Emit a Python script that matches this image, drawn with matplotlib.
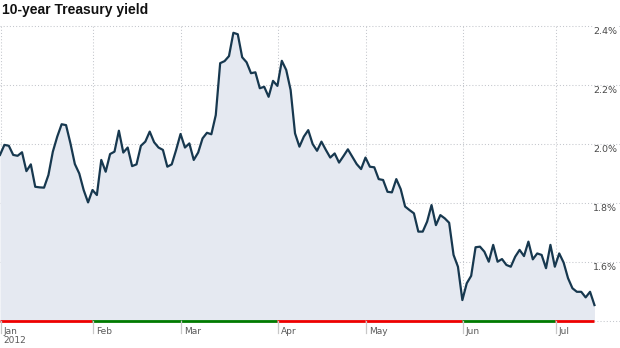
import numpy as np
import matplotlib
matplotlib.use("Agg")
import matplotlib.pyplot as plt

# 10-year Treasury yield (%), one value per trading day, Dec 30 2011 .. Jul 16 2012
yields = [
    1.963, 1.997, 1.994, 1.963, 1.960, 1.972, 1.908, 1.931, 1.855, 1.853,
    1.852, 1.895, 1.974, 2.025, 2.067, 2.064, 2.002, 1.932, 1.900, 1.844,
    1.802, 1.844, 1.827, 1.946, 1.906, 1.966, 1.974, 2.045, 1.971, 1.988,
    1.925, 1.931, 1.994, 2.008, 2.042, 2.006, 1.988, 1.980, 1.923, 1.931,
    1.980, 2.034, 1.988, 2.002, 1.946, 1.971, 2.019, 2.038, 2.033, 2.098,
    2.274, 2.281, 2.298, 2.377, 2.372, 2.294, 2.277, 2.240, 2.243, 2.189,
    2.194, 2.160, 2.214, 2.197, 2.282, 2.251, 2.183, 2.036, 1.991, 2.025,
    2.047, 2.000, 1.977, 2.008, 1.980, 1.954, 1.968, 1.937, 1.959, 1.982,
    1.957, 1.932, 1.915, 1.954, 1.923, 1.921, 1.881, 1.878, 1.838, 1.836,
    1.881, 1.847, 1.788, 1.776, 1.765, 1.703, 1.703, 1.737, 1.793, 1.725,
    1.759, 1.748, 1.733, 1.624, 1.584, 1.471, 1.528, 1.553, 1.650, 1.652,
    1.635, 1.601, 1.658, 1.601, 1.610, 1.590, 1.584, 1.618, 1.641, 1.620,
    1.669, 1.609, 1.629, 1.624, 1.579, 1.658, 1.584, 1.629, 1.598, 1.545,
    1.511, 1.499, 1.499, 1.480, 1.499, 1.454,
]

# first trading day of each month (index into yields)
month_ticks = [0, 21, 41, 63, 83, 105, 126]
month_labels = ["Jan\n2012", "Feb", "Mar", "Apr", "May", "Jun", "Jul"]
# monthly change colour along the baseline
month_colors = ["#ee0000", "#007a00", "#007a00", "#ee0000", "#ee0000", "#007a00", "#ee0000"]

y_ticks = [1.6, 1.8, 2.0, 2.2, 2.4]
y_labels = ["1.6%", "1.8%", "2.0%", "2.2%", "2.4%"]

LINE = "#17384f"
FILL = "#e5e9f1"
GRID = "#c4c7cc"

fig = plt.figure(figsize=(6.2, 3.48), dpi=100)
ax = fig.add_axes([0.0, (348 - 321) / 348, 1.0, 295 / 348])

x = np.arange(len(yields))
ax.set_xlim(0, 140.8)
ax.set_ylim(1.4, 2.4)

for s in ax.spines.values():
    s.set_visible(False)
ax.set_xticks([])
ax.set_yticks([])

# dotted grid
for v in y_ticks + [1.4]:
    ax.axhline(v, color=GRID, lw=0.75, ls=(0, (1, 2)), zorder=1, clip_on=False)
for t in month_ticks:
    ax.axvline(t + 0.2, color=GRID, lw=0.75, ls=(0, (1, 2)), zorder=1)

ax.fill_between(x, yields, 1.4, color=FILL, lw=0, zorder=2)
ax.plot(x, yields, color=LINE, lw=1.6, zorder=3, solid_joinstyle="round")

# coloured baseline per month
ends = month_ticks[1:] + [len(yields) - 1]
for start, end, c in zip(month_ticks, ends, month_colors):
    ax.hlines(1.4, start, end, color=c, lw=2.0, zorder=4, clip_on=False)

# month tick marks and labels
for t, lab in zip(month_ticks, month_labels):
    ax.plot([t + 0.2, t + 0.2], [0, -0.04], transform=ax.get_xaxis_transform(),
            color="#c8c8c8", lw=0.9, clip_on=False, zorder=4)
    ax.annotate(lab, xy=(t, 0), xycoords=("data", "axes fraction"),
                xytext=(2.5, -4), textcoords="offset points",
                ha="left", va="top", fontsize=6.5, color="#5a5a5a",
                family="DejaVu Sans", linespacing=1.05)

# y labels sitting just under their gridlines on the right
for v, lab in zip(y_ticks, y_labels):
    ax.annotate(lab, xy=(1.0, v), xycoords=("axes fraction", "data"),
                xytext=(-2, -0.8), textcoords="offset points",
                ha="right", va="top", fontsize=6.8, color="#4a4a4a",
                family="DejaVu Sans", zorder=5,
                bbox=dict(facecolor="white", edgecolor="none", pad=0.5) if v == 2.4 else None)

fig.text(0.004, 0.99, "10-year Treasury yield", ha="left", va="top",
         fontsize=10, fontweight="bold", family="Liberation Sans", color="#111111")

fig.savefig("out.png", dpi=100)
